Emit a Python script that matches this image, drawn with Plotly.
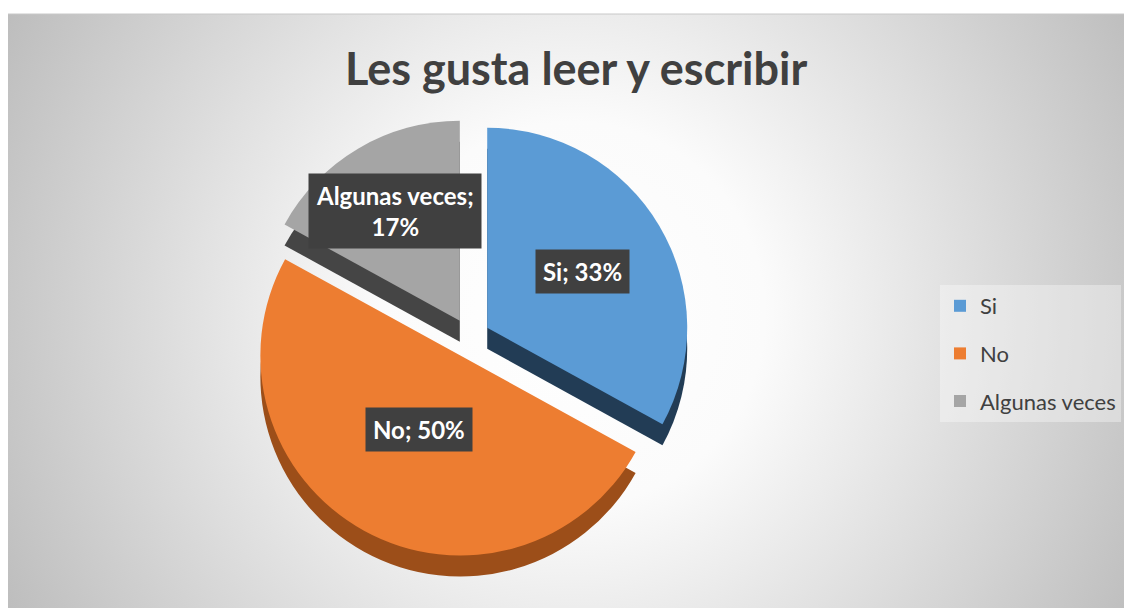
import base64, math
import plotly.graph_objects as go

# ---- data ----
categories = ["Si", "No", "Algunas veces"]
values = [33, 50, 17]
label_texts = ["Si; 33%", "No; 50%", "Algunas veces;<br>17%"]
colors_top = ["#5B9BD5", "#ED7D31", "#A5A5A5"]
colors_side = ["#223C55", "#9C4E19", "#454545"]
title_text = "Les gusta leer y escribir"

W, H = 1124, 600          # page has 8px body margin
OFF = 8                   # screen px -> figure px
px2x = lambda p: (p - OFF) / W
py2y = lambda p: 1 - (p - OFF) / H

# pie geometry (screen pixels)
CX, CY, R, PULL, DEPTH = 470, 338, 200, 0.1, 21
half = R * (1 + PULL)

def dom(cy):
    return dict(x=[px2x(CX - half), px2x(CX + half)],
                y=[py2y(cy + half), py2y(cy - half)])

fig = go.Figure()

# side (depth) layer
fig.add_trace(go.Pie(
    labels=categories, values=values, sort=False, direction="clockwise",
    rotation=0, pull=[PULL] * 3, domain=dom(CY + DEPTH),
    marker=dict(colors=colors_side, line=dict(width=0)),
    textinfo="none", hoverinfo="skip", showlegend=False))

# top face
fig.add_trace(go.Pie(
    labels=categories, values=values, sort=False, direction="clockwise",
    rotation=0, pull=[PULL] * 3, domain=dom(CY),
    marker=dict(colors=colors_top, line=dict(width=0)),
    textinfo="none", showlegend=False))

# legend entries
for name, c in zip(categories, colors_top):
    fig.add_trace(go.Scatter(x=[None], y=[None], mode="markers", name=name,
                             legendgroup=name,
                             marker=dict(symbol="square", size=14, color=c)))

# data labels placed at slice centroids computed from the values
total = sum(values)
cum = 0
annotations = []
for v, t in zip(values, label_texts):
    alpha = 2 * math.pi * v / total
    theta = 2 * math.pi * cum / total + alpha / 2
    cum += v
    centroid = 2 * math.sin(alpha / 2) / (3 * alpha / 2)
    dist = 1.0 * R * centroid + PULL * R
    lx = CX + dist * math.sin(theta)
    ly = CY - dist * math.cos(theta)
    annotations.append(dict(
        x=px2x(lx), y=py2y(ly), xref="paper", yref="paper",
        xanchor="center", yanchor="middle", text="<b>" + t + "</b>",
        showarrow=False, bgcolor="#404040", borderpad=7,
        font=dict(family="Lato, Open Sans, sans-serif", size=24, color="white")))

annotations.append(dict(
    x=px2x(576), y=py2y(68), xref="paper", yref="paper", showarrow=False,
    xanchor="center", yanchor="middle",
    text="<b>" + title_text + "</b>",
    font=dict(family="Lato, Open Sans, sans-serif", size=45, color="#404040")))

# radial gradient background
svg = ('<svg xmlns="http://www.w3.org/2000/svg" width="1124" height="594" viewBox="0 0 1124 594" preserveAspectRatio="none">'
       '<defs><radialGradient id="g" gradientUnits="userSpaceOnUse" cx="565" cy="300" r="640">'
       '<stop offset="0" stop-color="#ffffff"/><stop offset="0.3" stop-color="#fbfbfb"/>'
       '<stop offset="1" stop-color="#bdbdbd"/></radialGradient></defs>'
       '<rect width="1124" height="594" fill="url(#g)"/></svg>')
src = "data:image/svg+xml;base64," + base64.b64encode(svg.encode()).decode()

fig.update_layout(
    width=W, height=H, margin=dict(l=0, r=0, t=0, b=0),
    paper_bgcolor="white", plot_bgcolor="rgba(0,0,0,0)",
    xaxis=dict(visible=False), yaxis=dict(visible=False),
    images=[dict(source=src, xref="paper", yref="paper",
                 x=0, y=py2y(14), sizex=1, sizey=py2y(14),
                 xanchor="left", yanchor="top", sizing="stretch", layer="below")],
    shapes=[dict(type="line", xref="paper", yref="paper",
                 x0=0, x1=1, y0=py2y(14), y1=py2y(14),
                 line=dict(color="#C8C8C8", width=1))],
    annotations=annotations,
    legend=dict(x=px2x(940), y=py2y(285), xanchor="left", yanchor="top",
                bgcolor="rgba(255,255,255,0.35)", tracegroupgap=16,
                font=dict(family="Lato, Open Sans, sans-serif", size=22, color="#404040"),
                itemsizing="constant", itemwidth=30),
    showlegend=True,
)

fig.write_html("out.html")
